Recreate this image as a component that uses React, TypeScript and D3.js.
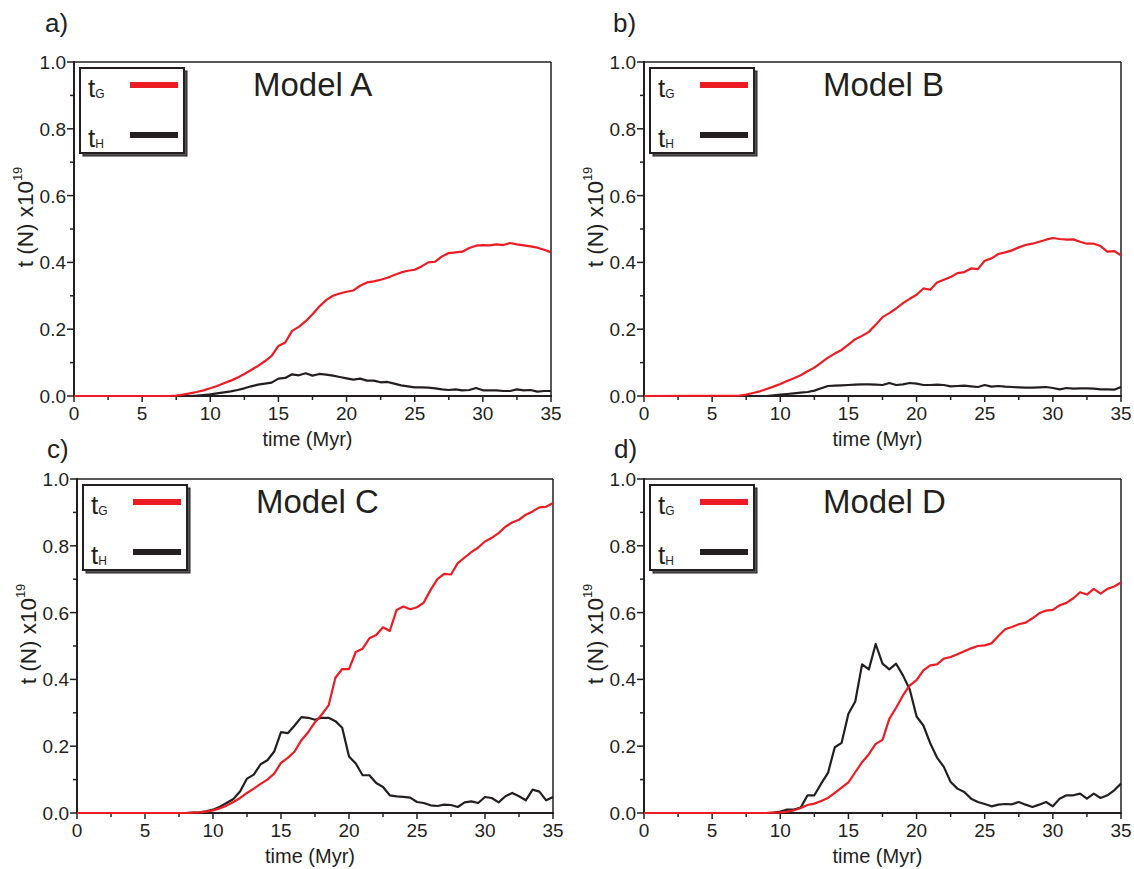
import React from 'react';
import * as d3 from 'd3';

const timeMyr = [0, 7, 7.5, 8, 8.5, 9, 9.5, 10, 10.5, 11, 11.5, 12, 12.5, 13, 13.5, 14, 14.5, 15, 15.5, 16, 16.5, 17, 17.5, 18, 18.5, 19, 19.5, 20, 20.5, 21, 21.5, 22, 22.5, 23, 23.5, 24, 24.5, 25, 25.5, 26, 26.5, 27, 27.5, 28, 28.5, 29, 29.5, 30, 30.5, 31, 31.5, 32, 32.5, 33, 33.5, 34, 34.5, 35];

const tG_A = [0, 0, 0.001, 0.004, 0.008, 0.012, 0.017, 0.023, 0.03, 0.038, 0.046, 0.055, 0.066, 0.078, 0.09, 0.104, 0.12, 0.15, 0.16, 0.195, 0.207, 0.224, 0.245, 0.268, 0.287, 0.3, 0.307, 0.312, 0.316, 0.33, 0.34, 0.343, 0.348, 0.354, 0.362, 0.37, 0.375, 0.378, 0.388, 0.4, 0.402, 0.418, 0.428, 0.43, 0.432, 0.443, 0.45, 0.452, 0.451, 0.454, 0.452, 0.458, 0.454, 0.451, 0.448, 0.444, 0.438, 0.43];
const tH_A = [0, 0, 0, 0, 0, 0.001, 0.003, 0.005, 0.008, 0.011, 0.014, 0.018, 0.023, 0.029, 0.034, 0.037, 0.04, 0.052, 0.054, 0.065, 0.062, 0.068, 0.061, 0.066, 0.064, 0.061, 0.057, 0.053, 0.049, 0.052, 0.046, 0.046, 0.041, 0.042, 0.037, 0.032, 0.029, 0.026, 0.026, 0.025, 0.023, 0.02, 0.018, 0.02, 0.017, 0.018, 0.024, 0.017, 0.017, 0.017, 0.015, 0.015, 0.02, 0.017, 0.018, 0.013, 0.015, 0.015];

const tG_B = [0, 0.001, 0.004, 0.009, 0.014, 0.021, 0.028, 0.036, 0.045, 0.053, 0.062, 0.074, 0.085, 0.1, 0.115, 0.127, 0.138, 0.154, 0.17, 0.18, 0.192, 0.213, 0.236, 0.248, 0.262, 0.278, 0.291, 0.303, 0.322, 0.318, 0.34, 0.348, 0.356, 0.368, 0.371, 0.382, 0.38, 0.405, 0.412, 0.425, 0.43, 0.436, 0.445, 0.452, 0.456, 0.462, 0.468, 0.473, 0.47, 0.468, 0.469, 0.462, 0.456, 0.456, 0.449, 0.432, 0.434, 0.421];
const tH_B = [0, 0, 0, 0, 0, 0, 0.002, 0.004, 0.006, 0.008, 0.01, 0.012, 0.016, 0.023, 0.03, 0.031, 0.032, 0.033, 0.034, 0.035, 0.035, 0.034, 0.033, 0.039, 0.033, 0.035, 0.039, 0.037, 0.033, 0.033, 0.034, 0.033, 0.029, 0.03, 0.031, 0.029, 0.027, 0.033, 0.028, 0.03, 0.028, 0.027, 0.026, 0.025, 0.025, 0.026, 0.027, 0.024, 0.02, 0.024, 0.022, 0.023, 0.023, 0.022, 0.02, 0.02, 0.019, 0.027];

const tG_C = [0, 0, 0, 0, 0.001, 0.002, 0.004, 0.008, 0.014, 0.022, 0.033, 0.045, 0.06, 0.073, 0.087, 0.1, 0.118, 0.15, 0.165, 0.184, 0.218, 0.242, 0.272, 0.295, 0.322, 0.405, 0.431, 0.431, 0.482, 0.492, 0.523, 0.533, 0.556, 0.545, 0.608, 0.618, 0.61, 0.616, 0.63, 0.668, 0.7, 0.716, 0.714, 0.748, 0.765, 0.781, 0.795, 0.813, 0.824, 0.838, 0.857, 0.87, 0.878, 0.893, 0.903, 0.915, 0.917, 0.928];
const tH_C = [0, 0, 0, 0, 0.001, 0.002, 0.005, 0.01, 0.019, 0.03, 0.042, 0.065, 0.103, 0.115, 0.146, 0.158, 0.184, 0.242, 0.239, 0.262, 0.287, 0.285, 0.279, 0.285, 0.285, 0.275, 0.255, 0.169, 0.148, 0.113, 0.113, 0.09, 0.078, 0.053, 0.05, 0.048, 0.046, 0.033, 0.03, 0.023, 0.021, 0.025, 0.024, 0.018, 0.032, 0.035, 0.03, 0.048, 0.045, 0.032, 0.05, 0.06, 0.05, 0.038, 0.07, 0.064, 0.038, 0.048];

const tG_D = [0, 0, 0, 0, 0, 0, 0.001, 0.002, 0.004, 0.008, 0.015, 0.024, 0.028, 0.036, 0.045, 0.06, 0.076, 0.092, 0.122, 0.152, 0.176, 0.207, 0.219, 0.282, 0.315, 0.352, 0.382, 0.398, 0.427, 0.442, 0.445, 0.462, 0.467, 0.475, 0.484, 0.493, 0.5, 0.502, 0.508, 0.53, 0.55, 0.557, 0.565, 0.57, 0.583, 0.598, 0.606, 0.608, 0.622, 0.629, 0.643, 0.661, 0.654, 0.671, 0.657, 0.671, 0.678, 0.69];
const tH_D = [0, 0, 0, 0, 0, 0, 0.001, 0.004, 0.01, 0.01, 0.016, 0.053, 0.053, 0.088, 0.12, 0.197, 0.21, 0.297, 0.334, 0.445, 0.43, 0.506, 0.447, 0.43, 0.447, 0.412, 0.37, 0.289, 0.262, 0.209, 0.166, 0.138, 0.093, 0.073, 0.063, 0.043, 0.033, 0.027, 0.02, 0.025, 0.027, 0.026, 0.033, 0.025, 0.018, 0.025, 0.033, 0.02, 0.043, 0.053, 0.053, 0.058, 0.043, 0.058, 0.045, 0.053, 0.068, 0.088];

const panelLetters = ['a)', 'b)', 'c)', 'd)'];
const modelNames = ['Model A', 'Model B', 'Model C', 'Model D'];
const xMajorTicks = [0, 5, 10, 15, 20, 25, 30, 35];
const xMinorTicks = [2.5, 7.5, 12.5, 17.5, 22.5, 27.5, 32.5];
const yMajorTicks = [0, 0.2, 0.4, 0.6, 0.8, 1.0];
const yMinorTicks = [0.1, 0.3, 0.5, 0.7, 0.9];

const RED = '#ed1c24';
const DARK = '#231f20';
const FONT = '"Liberation Sans", Arial, Helvetica, sans-serif';

const layouts = [
  { x0: 74, x1: 551, top: 62, bottom: 396, lx: 45, ly: 32 },
  { x0: 644, x1: 1121, top: 62, bottom: 396, lx: 613, ly: 32 },
  { x0: 77, x1: 553, top: 479, bottom: 813, lx: 47, ly: 458 },
  { x0: 644, x1: 1121, top: 479, bottom: 813, lx: 614, ly: 458 },
];
const seriesG = [tG_A, tG_B, tG_C, tG_D];
const seriesH = [tH_A, tH_B, tH_C, tH_D];

function Panel({ idx }: { idx: number }) {
  const L = layouts[idx];
  const x = d3.scaleLinear().domain([0, 35]).range([L.x0, L.x1]);
  const y = d3.scaleLinear().domain([0, 1]).range([L.bottom, L.top]);
  const line = d3
    .line<number>()
    .x((_, i) => x(timeMyr[i]))
    .y((d) => y(d));
  const cy = (L.top + L.bottom) / 2;
  const bx = L.x0 + 6;
  const by = L.top + 6;
  const bw = 104;
  const bh = 85;
  return (
    <g fontFamily={FONT} fill={DARK}>
      <text x={L.lx} y={L.ly} fontSize={26}>{panelLetters[idx]}</text>
      {/* frame */}
      <line x1={L.x0} x2={L.x1} y1={L.top} y2={L.top} stroke={DARK} strokeWidth={1.5} />
      <line x1={L.x1} x2={L.x1} y1={L.top} y2={L.bottom} stroke={DARK} strokeWidth={1.5} />
      <line x1={L.x0} x2={L.x0} y1={L.top - 1} y2={L.bottom + 1} stroke={DARK} strokeWidth={2} />
      <line x1={L.x0 - 1} x2={L.x1 + 1} y1={L.bottom} y2={L.bottom} stroke={DARK} strokeWidth={2} />
      {/* x ticks */}
      {xMajorTicks.map((t) => (
        <g key={'xm' + t}>
          <line x1={x(t)} x2={x(t)} y1={L.bottom} y2={L.bottom + 6} stroke={DARK} strokeWidth={1.5} />
          <text x={x(t)} y={L.bottom + 24} fontSize={19} textAnchor="middle">{t}</text>
        </g>
      ))}
      {xMinorTicks.map((t) => (
        <line key={'xn' + t} x1={x(t)} x2={x(t)} y1={L.bottom} y2={L.bottom + 4} stroke={DARK} strokeWidth={1.5} />
      ))}
      {/* y ticks */}
      {yMajorTicks.map((t) => (
        <g key={'ym' + t}>
          <line x1={L.x0 - 7} x2={L.x0} y1={y(t)} y2={y(t)} stroke={DARK} strokeWidth={1.5} />
          <text x={L.x0 - 8} y={y(t) + 7} fontSize={19} textAnchor="end">{d3.format('.1f')(t)}</text>
        </g>
      ))}
      {yMinorTicks.map((t) => (
        <line key={'yn' + t} x1={L.x0 - 4} x2={L.x0} y1={y(t)} y2={y(t)} stroke={DARK} strokeWidth={1.5} />
      ))}
      {/* data on top of the axes */}
      <path d={line(seriesH[idx]) || ''} fill="none" stroke={DARK} strokeWidth={2.2} strokeLinejoin="round" />
      <path d={line(seriesG[idx]) || ''} fill="none" stroke={RED} strokeWidth={2.2} strokeLinejoin="round" />
      {/* axis titles */}
      <text x={(L.x0 + L.x1) / 2 - 5} y={L.bottom + 50} fontSize={20} textAnchor="middle">time (Myr)</text>
      <text transform={`translate(${L.x0 - 41},${cy - 12}) rotate(-90)`} fontSize={22.5} textAnchor="middle">
        t (N) x10<tspan fontSize={13} dy={-11}>19</tspan>
      </text>
      {/* model name */}
      <text x={L.x0 + 179} y={L.top + 34} fontSize={33}>{modelNames[idx]}</text>
      {/* legend */}
      <rect x={bx + 3} y={by + 3} width={bw} height={bh} fill="#555" stroke={DARK} strokeWidth={1} />
      <rect x={bx} y={by} width={bw} height={bh} fill="#fff" stroke={DARK} strokeWidth={2} />
      <text x={bx + 8} y={by + 29} fontSize={26}>t<tspan fontSize={12} dy={1}>G</tspan></text>
      <line x1={bx + 50} x2={bx + 98} y1={by + 17} y2={by + 17} stroke={RED} strokeWidth={6} />
      <text x={bx + 8} y={by + 79} fontSize={26}>t<tspan fontSize={12} dy={1}>H</tspan></text>
      <line x1={bx + 50} x2={bx + 98} y1={by + 67} y2={by + 67} stroke={DARK} strokeWidth={6} />
    </g>
  );
}

export default function App() {
  return (
    <div style={{ position: 'absolute', left: 0, top: 0 }}>
      <svg width={1134} height={869} style={{ display: 'block', background: '#fff' }}>
        {[0, 1, 2, 3].map((i) => (
          <Panel key={i} idx={i} />
        ))}
      </svg>
    </div>
  );
}
